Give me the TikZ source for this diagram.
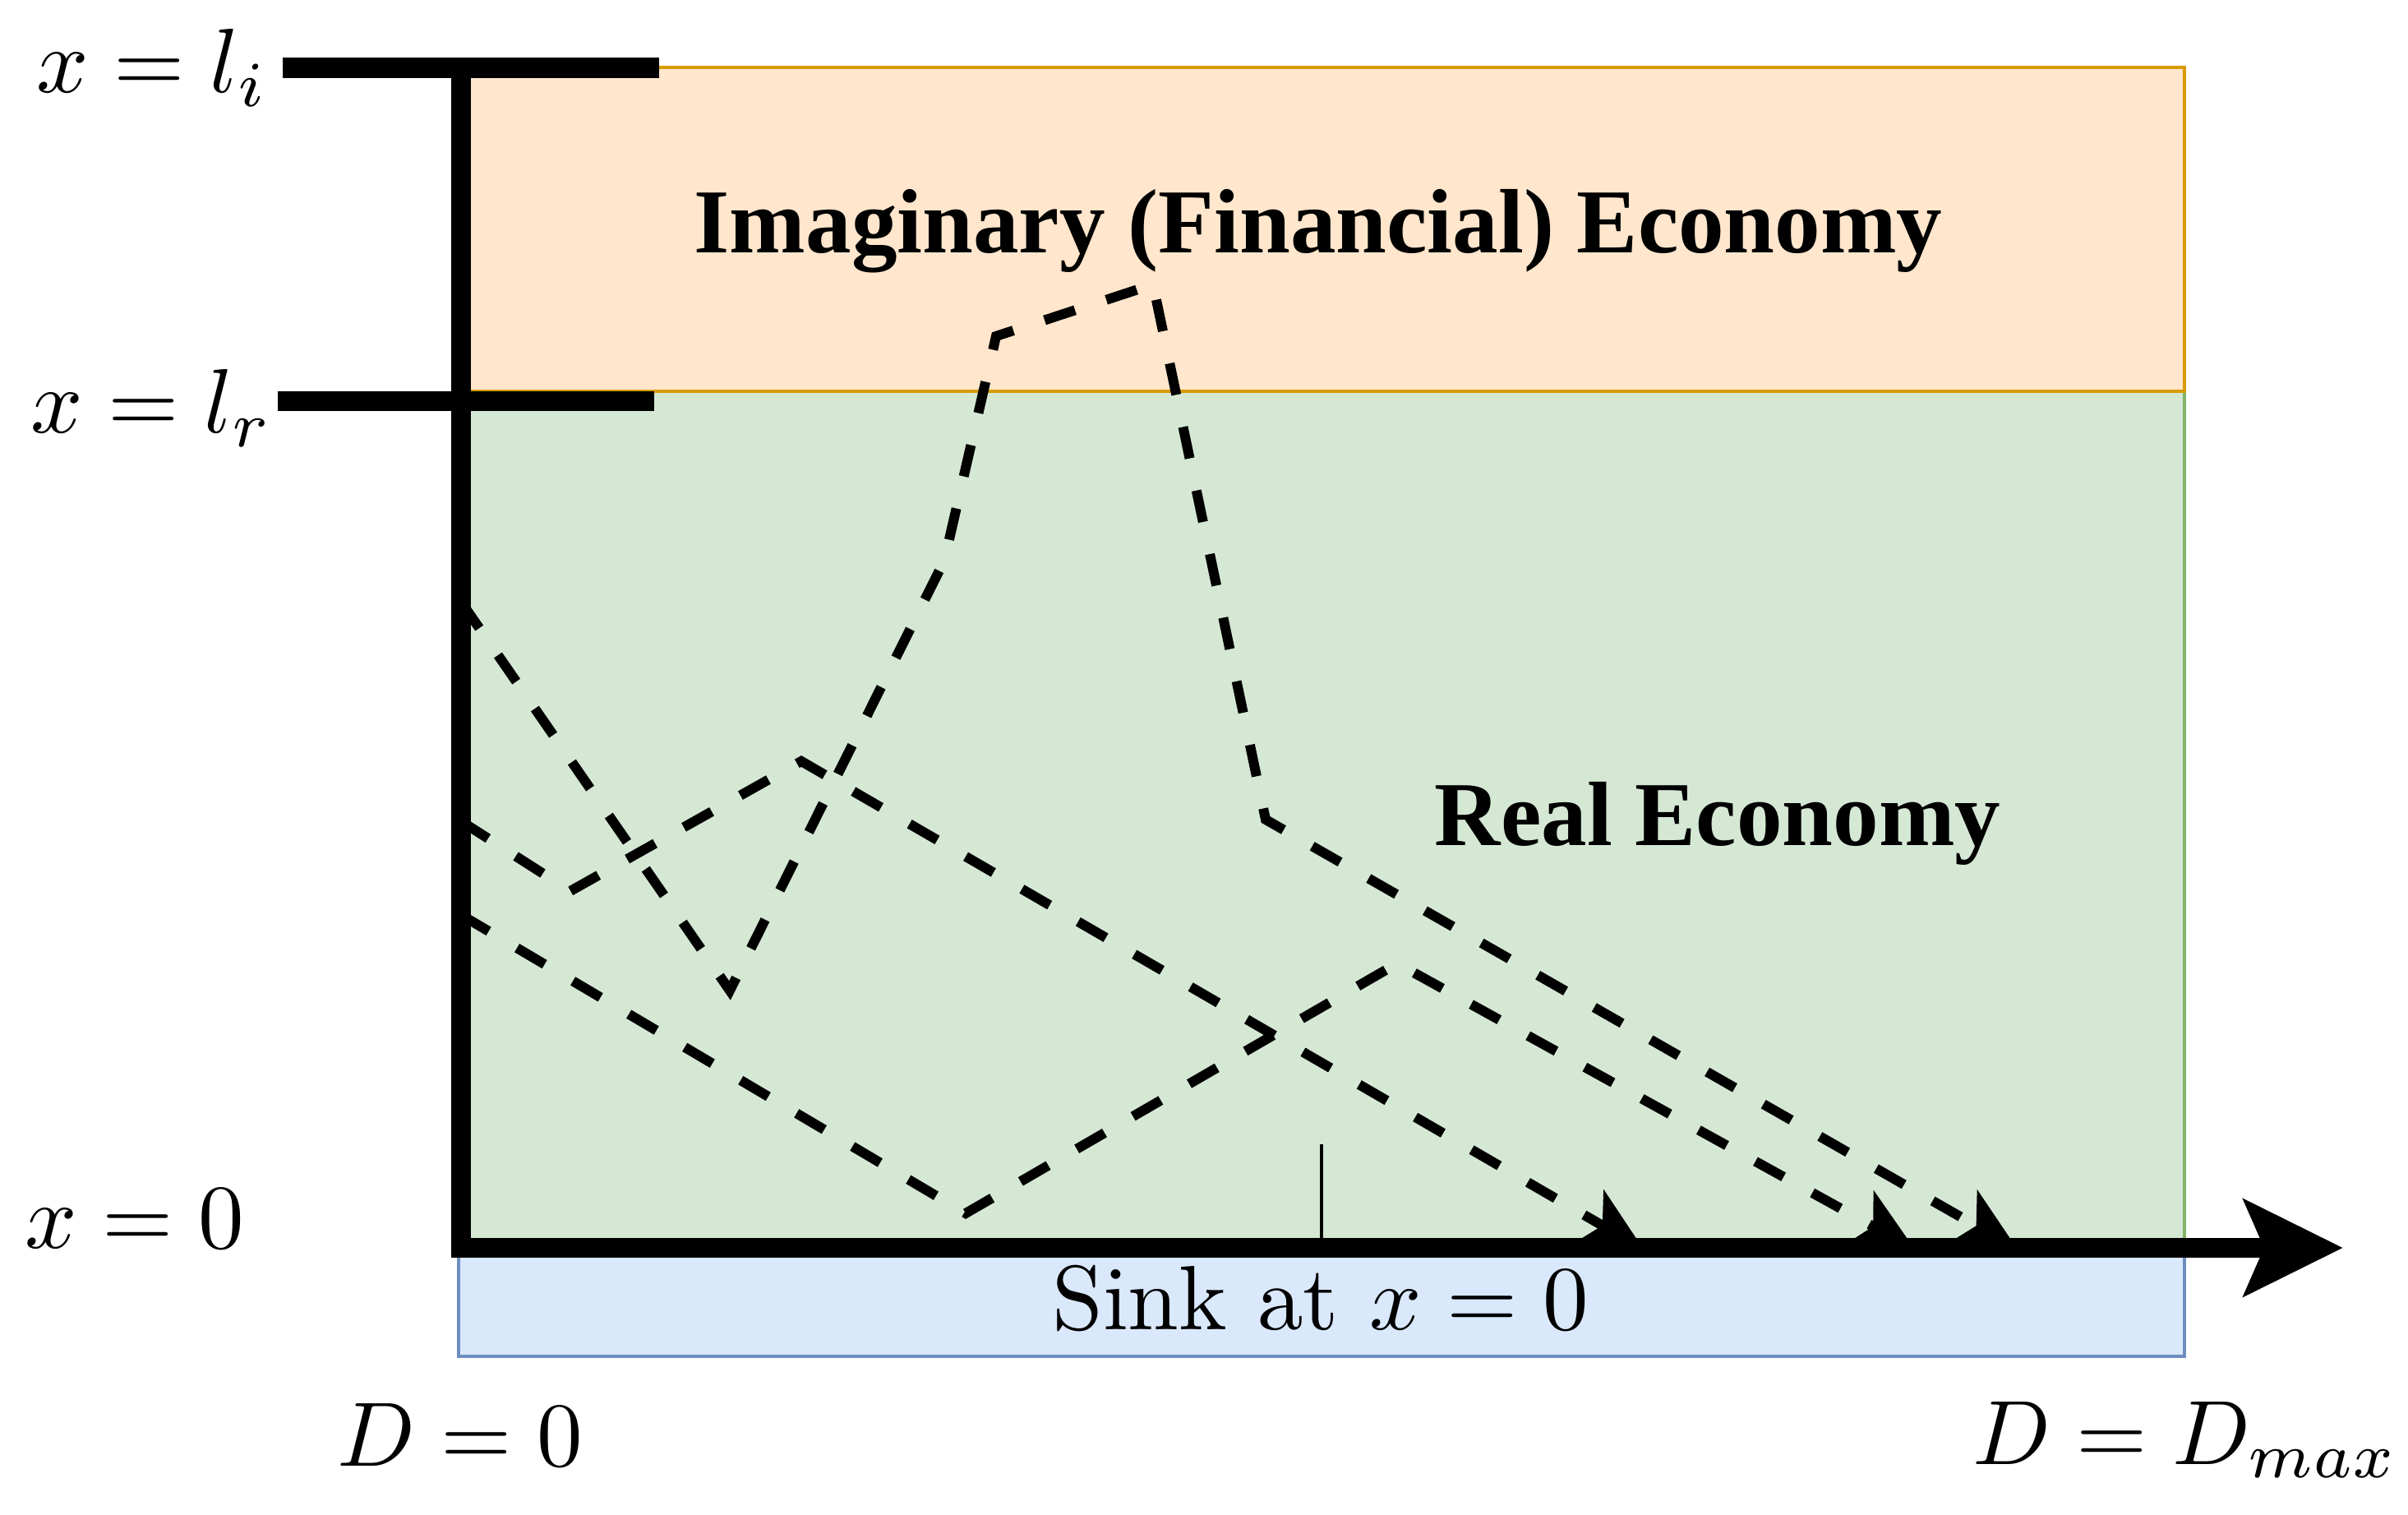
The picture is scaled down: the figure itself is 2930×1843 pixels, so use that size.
\documentclass[tikz,border=0pt]{standalone}
\usepackage{fontspec}
\newfontfamily\timesfont{Liberation Serif}
\usetikzlibrary{arrows.meta}
\definecolor{orfill}{HTML}{FFE6CC}
\definecolor{ordraw}{HTML}{D79B00}
\definecolor{grfill}{HTML}{D5E8D4}
\definecolor{grdraw}{HTML}{82B366}
\definecolor{blfill}{HTML}{DAE8FC}
\definecolor{bldraw}{HTML}{6C8EBF}
\newcommand{\titlefont}{\timesfont\bfseries\fontsize{31.6pt}{38pt}\selectfont}
\tikzset{
  region/.style={line width=1.28pt},
  thickbar/.style={line width=7.1pt},
  axisline/.style={line width=6.83pt, line join=miter},
  flow/.style={line width=3.4pt, dash pattern=on 0.39cm off 0.40cm,
    -{Stealth[length=0.78cm,width=0.76cm,inset=0.2cm]}},
  lbl/.style={inner sep=0pt, font=\fontsize{10pt}{12pt}\selectfont, scale=3.16},
  ttl/.style={inner sep=0pt, font=\titlefont},
}
\begin{document}
\begin{tikzpicture}[x=0.01cm,y=-0.01cm]
\useasboundingbox (0,0) rectangle (2930,1843);
% regions
\draw[region, draw=grdraw, fill=grfill] (561,476) rectangle (2658,1518);
\draw[region, draw=ordraw, fill=orfill] (561,82) rectangle (2658,476);
\draw[region, draw=bldraw, fill=blfill] (558,1518) rectangle (2658,1650);
% tick
\coordinate (tickt) at (1608,1392);
\coordinate (tickb) at (1608,1518);
\draw[line width=1.14pt] (tickt) -- (tickb);
% path 1
\coordinate (a0) at (561,732);
\coordinate (a1) at (888,1205);
\coordinate (a2) at (1149,682);
\coordinate (a3) at (1212,409);
\coordinate (a4) at (1403,346);
\coordinate (a5) at (1540,997);
\coordinate (a6) at (2455,1520);
\draw[flow] (a0) -- (a1) -- (a2) -- (a3) -- (a4) -- (a5) -- (a6);
% path 2
\coordinate (b0) at (561,999);
\coordinate (b1) at (694,1084);
\coordinate (b2) at (975,926);
\coordinate (b3) at (2000,1520);
\draw[flow] (b0) -- (b1) -- (b2) -- (b3);
% path 3
\coordinate (c0) at (561,1113);
\coordinate (c1) at (1175,1476);
\coordinate (c2) at (1700,1172);
\coordinate (c3) at (2330,1520);
\draw[flow] (c0) -- (c1) -- (c2) -- (c3);
% axes
\coordinate (top) at (561,82);
\coordinate (origin) at (561,1518);
\coordinate (xend) at (2851,1518);
\draw[axisline, -{Stealth[length=1.2cm,width=1.16cm,inset=0.24cm]}] (top) -- (origin) -- (xend);
\coordinate (li1) at (344,82.5);
\coordinate (li2) at (802,82.5);
\draw[thickbar] (li1) -- (li2);
\coordinate (lr1) at (338,488);
\coordinate (lr2) at (796,488);
\draw[thickbar] (lr1) -- (lr2);
% labels
\node[lbl, anchor=base west] (tli) at (42,113) {$x=l_i$};
\node[lbl, anchor=base west] (tlr) at (35,527) {$x=l_r$};
\node[lbl, anchor=base west] (tx0) at (28,1518) {$x=0$};
\node[lbl, anchor=base west] (td0) at (408,1783) {$D=0$};
\node[lbl, anchor=base west] (tdm) at (2398,1781) {$D=D_{max}$};
\node[lbl, anchor=base west] (tsink) at (1278,1617) {Sink at $x=0$};
\node[ttl, anchor=base] (timag) at (1604,308) {Imaginary (Financial) Economy};
\node[ttl, anchor=base] (treal) at (2090,1028) {Real Economy};
\end{tikzpicture}
\end{document}
